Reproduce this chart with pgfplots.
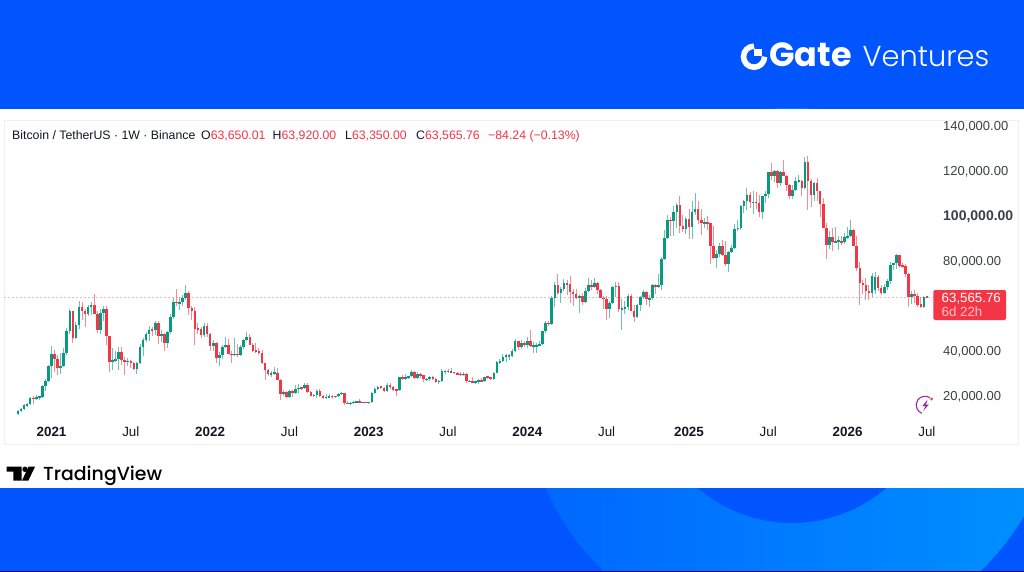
\documentclass[border=0pt]{standalone}
\usepackage{fontspec}
\usepackage{pgfplots}
\usepackage{pgfplotstable}
\pgfplotsset{compat=1.18}
\setmainfont{Liberation Sans}
\newfontfamily\popb{Poppins}[UprightFont=*,BoldFont=* Bold]
\newfontfamily\popl{Poppins Light}
\newfontfamily\popm{Poppins Medium}
\definecolor{bgblue}{HTML}{0055FF}
\definecolor{ringl}{HTML}{0066FF}
\definecolor{ringr}{HTML}{0092FF}
\definecolor{gb}{HTML}{089981}
\definecolor{rb}{HTML}{F23645}
\definecolor{gw}{HTML}{6DC2B3}
\definecolor{rw}{HTML}{F78A93}
\definecolor{dotc}{HTML}{FBB4BA}
\definecolor{ink}{HTML}{131722}
\definecolor{tickc}{HTML}{3C3F46}
\definecolor{badge}{HTML}{9C27B0}
\pgfplotstableread{
i o h l c
0 11.5 13.2 11.4 13.0
1 13.0 14.1 12.8 13.8
2 13.8 15.9 13.2 15.5
3 15.5 16.5 14.8 16.0
4 16.0 18.9 15.8 18.7
5 18.7 19.4 16.2 18.2
6 18.2 19.9 17.6 19.2
7 19.2 19.4 17.6 19.2
8 19.2 24.3 19.0 23.8
9 23.8 26.9 21.8 26.4
10 26.4 33.3 26.0 33.0
11 33.0 41.9 27.7 38.1
12 38.1 40.1 30.4 35.8
13 35.8 37.8 28.9 32.2
14 32.2 38.5 29.2 33.1
15 33.1 41.0 32.3 38.8
16 38.8 49.7 37.9 48.6
17 48.6 58.4 47.0 57.4
18 57.4 57.5 43.0 45.2
19 45.2 52.6 44.9 50.9
20 50.9 61.8 49.3 59.0
21 59.0 61.2 53.3 57.3
22 57.3 58.4 50.4 55.8
23 55.8 60.2 55.0 58.9
24 58.9 61.3 55.5 59.8
25 59.8 64.9 58.8 56.2
26 56.2 57.5 47.5 49.0
27 49.0 58.4 47.0 56.6
28 56.6 59.6 52.9 58.2
29 58.2 59.6 42.0 46.4
30 46.4 46.4 30.0 34.7
31 34.7 40.9 31.0 35.7
32 35.7 39.5 34.8 35.8
33 35.8 41.3 31.0 39.0
34 39.0 41.3 33.3 35.6
35 35.6 36.7 28.8 34.7
36 34.7 36.6 32.7 35.3
37 35.3 35.7 32.0 34.2
38 34.2 34.6 31.0 31.5
39 31.5 34.8 29.3 34.3
40 34.3 42.6 34.0 41.5
41 41.5 45.3 37.3 44.6
42 44.6 48.1 43.7 47.0
43 47.0 50.5 43.9 49.0
44 49.3 50.2 46.4 48.8
45 48.8 52.9 46.5 51.8
46 51.8 52.9 42.8 46.0
47 46.0 48.8 43.4 47.3
48 47.3 47.4 39.6 43.2
49 43.2 48.5 40.7 48.2
50 48.2 56.1 46.9 54.7
51 54.7 62.9 53.9 61.5
52 61.5 67.0 59.5 60.9
53 60.9 63.7 57.8 61.3
54 61.3 64.3 59.4 63.3
55 63.3 69.0 62.3 65.5
56 65.5 66.3 55.6 58.6
57 58.6 59.4 53.3 57.3
58 57.3 59.2 42.0 49.4
59 49.4 51.9 47.0 49.3
60 49.3 50.2 45.5 46.7
61 46.7 51.8 45.6 50.8
62 50.8 52.1 45.7 47.3
63 47.3 47.5 39.6 41.8
64 41.8 44.5 39.7 43.1
65 43.1 43.5 34.0 36.3
66 36.3 38.9 32.9 37.9
67 37.9 42.0 36.2 41.4
68 41.4 45.8 41.1 42.2
69 42.2 44.7 38.0 38.4
70 38.4 39.5 34.3 37.7
71 37.7 45.4 37.2 38.4
72 38.4 42.6 37.1 37.8
73 37.8 42.4 37.5 41.3
74 41.3 45.1 40.5 44.5
75 44.5 48.2 44.2 45.8
76 45.8 47.2 42.0 42.2
77 42.2 43.0 39.2 39.7
78 39.7 42.9 38.5 39.4
79 39.4 40.8 37.6 38.5
80 38.5 40.0 33.7 34.0
81 34.0 34.2 26.7 31.3
82 31.3 31.4 28.6 29.4
83 29.4 30.6 28.0 29.5
84 29.5 32.4 29.3 29.9
85 29.9 31.8 26.5 26.6
86 26.6 26.9 17.6 20.6
87 20.6 22.0 19.6 21.5
88 21.5 21.6 18.6 19.2
89 19.2 22.0 19.0 21.6
90 21.6 22.0 18.9 20.8
91 20.8 24.3 20.7 22.6
92 22.6 24.7 20.7 23.3
93 23.3 23.4 22.4 23.2
94 23.2 25.2 22.7 24.3
95 24.3 25.2 20.8 21.5
96 21.5 21.8 19.4 19.6
97 19.6 20.6 19.5 20.0
98 20.0 22.8 18.5 21.8
99 21.8 22.7 18.9 19.4
100 19.4 19.9 18.1 18.8
101 18.8 20.4 18.5 19.0
102 19.0 20.5 18.9 19.4
103 19.4 19.9 18.2 19.3
104 19.3 19.7 18.9 19.6
105 19.6 21.1 19.2 20.6
106 20.6 21.5 20.0 20.9
107 20.9 21.0 15.6 16.3
108 16.3 17.2 16.0 16.3
109 16.3 16.8 15.5 16.4
110 16.4 17.4 16.0 17.1
111 17.1 17.4 16.7 17.1
112 17.1 18.4 16.5 16.7
113 16.7 17.1 16.3 16.8
114 16.8 16.9 16.3 16.6
115 16.6 17.0 16.5 16.9
116 16.9 21.3 16.8 20.9
117 20.9 23.4 20.4 22.7
118 22.7 23.8 22.3 23.7
119 23.7 24.2 22.7 23.3
120 23.3 23.4 21.5 21.9
121 21.9 25.2 21.3 24.6
122 24.6 25.3 22.7 23.5
123 23.5 23.9 21.9 22.4
124 22.4 22.6 19.5 22.1
125 22.1 28.0 21.9 27.9
126 27.9 28.9 26.6 27.5
127 27.5 29.2 26.5 28.0
128 28.0 28.5 27.2 28.3
129 28.3 31.0 28.2 30.3
130 30.3 30.5 27.1 27.6
131 27.6 30.0 26.9 29.2
132 29.2 29.8 27.7 28.9
133 28.9 29.0 25.8 26.9
134 26.9 27.7 26.3 27.1
135 27.1 28.4 26.1 28.1
136 28.1 28.4 26.5 27.1
137 27.1 27.4 25.4 25.9
138 25.9 26.8 24.8 26.3
139 26.3 31.4 26.2 30.5
140 30.5 31.0 29.5 30.6
141 30.6 31.4 29.7 30.3
142 30.3 31.8 29.9 30.3
143 30.3 30.4 29.5 29.8
144 29.8 30.0 28.9 29.3
145 29.3 30.0 28.6 29.0
146 29.0 30.2 28.8 29.3
147 29.3 29.7 25.2 26.0
148 26.0 26.8 25.8 26.0
149 26.0 28.1 25.3 25.8
150 25.8 26.1 24.9 25.8
151 25.8 26.9 24.9 26.5
152 26.5 27.5 26.0 26.2
153 26.2 28.0 26.0 28.0
154 28.0 28.6 27.2 27.9
155 27.9 28.0 26.5 27.1
156 27.1 30.4 27.0 29.9
157 29.9 35.3 29.9 34.5
158 34.5 35.9 33.9 35.0
159 35.0 38.0 34.5 37.1
160 37.1 38.0 34.8 37.4
161 37.4 38.4 35.6 37.4
162 37.4 40.3 36.7 39.5
163 39.5 44.7 39.0 43.8
164 43.8 44.0 40.2 41.4
165 41.4 44.4 40.5 43.0
166 43.0 43.8 41.3 42.3
167 42.3 45.9 40.7 43.9
168 43.9 49.0 41.5 41.7
169 41.7 43.6 38.5 41.8
170 41.8 43.0 38.5 42.0
171 42.0 44.0 41.8 42.6
172 42.6 48.6 42.3 48.3
173 48.3 52.8 47.7 52.1
174 52.1 52.9 50.5 51.7
175 51.7 64.0 50.9 63.1
176 63.1 70.2 59.0 68.9
177 68.9 73.8 64.5 65.3
178 65.3 68.1 60.8 67.2
179 67.2 71.7 66.4 69.6
180 69.6 71.3 64.5 69.3
181 69.3 72.8 60.7 65.7
182 65.7 66.9 59.6 64.9
183 64.9 67.2 62.8 63.1
184 63.1 64.7 56.5 64.0
185 64.0 65.5 60.2 61.5
186 61.5 67.7 60.8 66.3
187 66.3 72.0 66.0 69.0
188 69.0 71.0 66.6 67.8
189 67.8 72.0 67.5 69.6
190 69.6 70.0 65.1 66.6
191 66.6 67.3 63.0 63.2
192 63.2 63.8 58.4 62.7
193 62.7 63.9 53.5 58.2
194 58.2 61.8 54.3 60.8
195 60.8 68.4 60.5 68.2
196 68.2 70.0 63.5 68.3
197 68.3 70.0 57.1 58.1
198 58.1 62.7 49.0 58.7
199 58.7 61.8 56.1 58.9
200 58.9 65.0 57.8 64.2
201 64.2 65.0 57.2 57.3
202 57.3 59.8 52.5 54.8
203 54.8 60.6 54.5 59.9
204 59.9 64.1 57.5 63.5
205 63.5 66.5 62.7 65.8
206 65.8 66.0 59.8 62.8
207 62.8 64.5 58.9 62.9
208 62.9 69.4 62.0 69.0
209 69.0 69.5 65.0 68.0
210 68.0 73.6 67.5 68.7
211 68.7 81.5 66.8 80.4
212 80.4 93.4 80.2 89.8
213 89.8 99.8 89.4 97.9
214 97.9 98.9 90.8 97.2
215 97.2 104.1 90.5 101.1
216 101.1 105.2 94.2 104.5
217 104.5 108.3 92.2 95.1
218 95.1 99.9 92.5 93.7
219 93.7 99.0 91.5 98.4
220 98.4 102.7 89.2 94.5
221 94.5 106.4 89.2 101.3
222 101.3 109.6 100.1 102.6
223 102.6 106.4 96.2 97.7
224 97.7 102.5 91.2 96.5
225 96.5 98.8 94.1 96.6
226 96.6 99.5 93.4 96.3
227 96.3 96.5 78.2 86.0
228 86.0 95.0 80.5 80.7
229 80.7 84.5 76.6 82.6
230 82.6 87.4 81.1 86.1
231 86.1 88.8 81.6 82.4
232 82.4 88.5 77.2 78.3
233 78.3 83.9 74.5 83.7
234 83.7 86.5 83.1 85.2
235 85.2 95.8 85.1 93.7
236 93.7 97.9 92.8 94.3
237 94.3 104.4 93.3 104.1
238 104.1 106.8 100.7 106.4
239 106.4 112.0 102.0 108.9
240 108.9 110.4 103.1 105.6
241 105.6 110.5 100.4 105.6
242 105.6 110.4 102.6 105.5
243 105.5 108.9 99.0 101.5
244 101.5 108.5 98.2 108.3
245 108.3 110.5 105.1 109.2
246 109.2 119.2 107.5 119.0
247 119.0 123.2 115.7 117.3
248 117.3 120.2 114.7 119.4
249 119.4 119.8 111.9 114.2
250 114.2 119.5 112.7 119.3
251 119.3 124.5 117.2 117.5
252 117.5 117.6 110.7 113.5
253 113.5 113.7 107.3 108.3
254 108.3 113.4 107.3 111.1
255 111.1 116.7 110.6 115.3
256 115.3 117.9 114.4 115.3
257 115.3 115.5 108.6 112.1
258 112.1 125.7 111.6 123.5
259 123.5 126.2 102.0 115.0
260 115.0 116.0 103.5 108.7
261 108.7 114.5 106.1 114.3
262 114.3 116.4 106.3 110.5
263 110.5 110.8 98.9 104.7
264 104.7 107.5 94.0 94.2
265 94.2 96.6 80.6 86.8
266 86.8 93.0 85.0 90.4
267 90.4 94.1 83.8 88.2
268 88.2 94.5 87.5 88.2
269 88.2 90.5 84.5 88.6
270 88.6 90.5 86.6 87.8
271 87.8 91.8 87.0 90.0
272 90.0 94.7 89.3 90.5
273 90.5 97.7 90.0 93.4
274 93.4 93.8 86.0 86.0
275 86.0 90.5 75.0 76.5
276 76.5 79.0 59.8 69.7
277 69.7 71.0 65.0 69.0
278 69.0 72.0 62.0 66.0
279 66.0 69.0 62.4 65.3
280 65.3 74.0 63.5 72.8
281 66.5 74.5 65.0 72.5
282 72.5 73.5 66.0 67.5
283 67.5 69.0 64.5 65.5
284 65.5 69.5 65.0 68.0
285 68.0 71.5 66.5 70.5
286 70.5 79.0 69.5 77.8
287 77.8 78.5 75.5 78.5
288 78.5 82.6 76.0 82.0
289 82.0 82.2 76.5 77.5
290 77.5 78.8 76.5 77.2
291 77.2 78.0 72.5 73.7
292 73.7 74.0 59.3 63.7
293 63.7 66.0 60.5 65.0
294 65.0 66.5 61.0 63.8
295 63.8 65.5 59.2 60.0
296 60.5 63.5 58.8 59.2
297 59.2 64.0 58.5 63.65
298 63.65 63.92 63.35 63.57
}\btc
\newcommand{\candles}[3]{%
  \addplot[draw=none,mark=none,forget plot,restrict x to domain=-10:400,
    error bars/.cd,y dir=both,y explicit,error mark=none,
    error bar style={draw=#1,line width=0.95pt,solid}]
    table[x expr={\thisrow{i}+1000*(#3)},y expr=\thisrow{o},
      y error plus expr={\thisrow{h}-\thisrow{o}},
      y error minus expr={\thisrow{o}-\thisrow{l}}] {\btc};
  \addplot[draw=none,mark=none,forget plot,restrict x to domain=-10:400,
    error bars/.cd,y dir=both,y explicit,error mark=none,
    error bar style={draw=#2,line width=2.6pt,solid}]
    table[x expr={\thisrow{i}+1000*(#3)},y expr={(\thisrow{o}+\thisrow{c})/2},
      y error plus expr={max(abs(\thisrow{c}-\thisrow{o})/2,0.3)},
      y error minus expr={max(abs(\thisrow{c}-\thisrow{o})/2,0.3)}] {\btc};
}
\begin{document}
\begin{tikzpicture}[x=1pt,y=-1pt]
\path[use as bounding box] (0,0) rectangle (1024,572);
\fill[bgblue] (0,0) rectangle (1024,572);
\begin{scope}
\clip (0,0) rectangle (1024,572);
\shade[left color=ringl,right color=ringr,even odd rule]
  (792,378) circle[radius=270pt] (792,378) circle[radius=145pt];
\end{scope}
\fill[white] (0,109) rectangle (1024,488);
\fill[black!60!blue] (0,571) rectangle (1024,572);
\draw[black!6,line width=0.8pt] (4,120.5) rectangle (1018,444);
% logo
\draw[white,line width=5.6] (754,46.2) arc[start angle=-90,delta angle=-270,radius=10.5];
\fill[white] (754.3,49.3) rectangle (761.7,56.3);
\node[anchor=base west,inner sep=0,text=white,font={\popb\bfseries\fontsize{33.5}{33.5}\selectfont}] at (769,66.5) {Gate};
\node[anchor=base west,inner sep=0,text=white,font={\popl\fontsize{28.8}{28.8}\selectfont}] at (862.5,66.5) {Ventures};
% TradingView logo
\fill[black] (6.7,466.7) -- (21.7,466.7) -- (21.7,480.7) -- (13.3,480.7) -- (13.3,471.7) -- (6.7,471.7) -- cycle;
\fill[black] (25,469.3) circle[radius=2.7pt];
\fill[black] (28.5,466.7) -- (35,466.7) -- (28.3,480.7) -- (21.9,480.7) -- cycle;
\node[anchor=base west,inner sep=0,text=black,font={\popm\fontsize{18.9}{18.9}\selectfont}] at (43,480.5) {TradingView};
% last-price guide line
\draw[dotc,line width=1.1pt,dash pattern=on 2.2pt off 1.8pt] (4,297.3) -- (933,297.3);
\begin{axis}[
  at={(4pt,-444pt)},anchor=south west,scale only axis,
  width=931pt,height=324pt,
  xmin=-4.59,xmax=300.66,ymin=-1.78,ymax=142.2,
  axis line style={draw=none},tick style={draw=none},
  xtick={11,37,63,89,115,141,167,193,220,246,272,298},
  xticklabels={\textbf{2021},Jul,\textbf{2022},Jul,\textbf{2023},Jul,\textbf{2024},Jul,\textbf{2025},Jul,\textbf{2026},Jul},
  ytick={20,40,80,100,120,140},
  yticklabels={{20,000.00},{40,000.00},{80,000.00},{\textbf{\fontsize{14}{14}\selectfont 100,000.00}},{120,000.00},{140,000.00}},
  yticklabel pos=right,
  yticklabel style={inner sep=0pt,anchor=west,xshift=8pt,yshift=-1.5pt,text=tickc,font=\fontsize{13}{13}\selectfont},
  xticklabel style={inner sep=0pt,anchor=base,yshift=8pt,text=ink,font=\fontsize{13.4}{13.4}\selectfont},
]
\candles{gw}{gb}{\thisrow{c}<\thisrow{o}}
\candles{rw}{rb}{\thisrow{c}>=\thisrow{o}}
\end{axis}
% header
\begin{scope}[every node/.style={anchor=base west,inner sep=0,font=\fontsize{12.3}{12.3}\selectfont}]
\node[text=ink] at (12,139.5) {Bitcoin / TetherUS · 1W · Binance};
\node[text=ink] at (201,139.5) {O\textcolor{rb}{63,650.01}};
\node[text=ink] at (272.5,139.5) {H\textcolor{rb}{63,920.00}};
\node[text=ink] at (345,139.5) {L\textcolor{rb}{63,350.00}};
\node[text=ink] at (416,139.5) {C\textcolor{rb}{63,565.76}};
\node[text=rb] at (488,139.5) {−84.24 (−0.13\%)};
\end{scope}
% price box
\fill[rb,rounded corners=1.5pt] (933.3,290) rectangle (1006,320);
\node[anchor=base west,inner sep=0,text=white,font=\fontsize{13.3}{13.3}\selectfont] at (941.5,302) {63,565.76};
\node[anchor=base west,inner sep=0,text=white!70!rb,font=\fontsize{13.3}{13.3}\selectfont] at (941.5,316) {6d 22h};
% lightning badge
\draw[badge,line width=1.1] (930,397.8) arc[start angle=-55,delta angle=-195,radius=8.8];
\fill[badge] (927.5,399.5) -- (922.5,406) -- (925.5,406) -- (923,411) -- (929,404.5) -- (926,404.5) -- cycle;
\fill[rb] (931.7,399) circle[radius=1.5pt];
\end{tikzpicture}
\end{document}
